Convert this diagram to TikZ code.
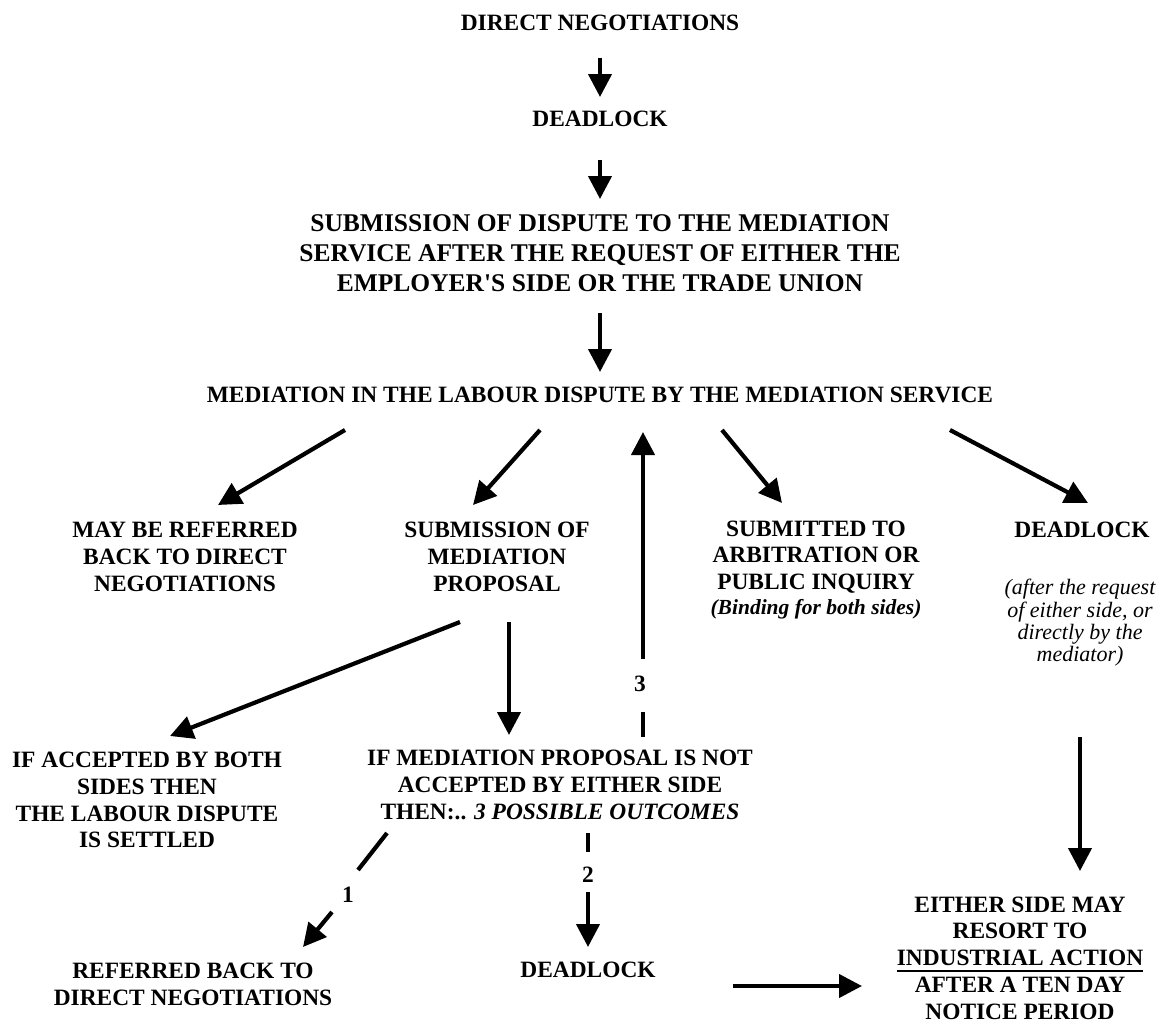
\documentclass[tikz,border=0pt]{standalone}
\usepackage{fontspec}
\setmainfont{Liberation Serif}[Ligatures=TeXOff]
\usetikzlibrary{arrows.meta}
\newcommand\ulbar[1]{\setbox0\hbox{#1}\rlap{\rule[-6pt]{\wd0}{2pt}}\box0}
\begin{document}
\begin{tikzpicture}[x=1pt,y=-1pt,
  lbl/.style={inner sep=0pt,align=center,font=\bfseries\fontsize{23.4}{26.8}\selectfont},
  big/.style={inner sep=0pt,align=center,font=\bfseries\fontsize{25.5}{30}\selectfont},
  note/.style={inner sep=0pt,align=center,font=\itshape\fontsize{22}{22.3}\selectfont},
  bnote/.style={inner sep=0pt,align=center,font=\bfseries\itshape\fontsize{21.5}{24}\selectfont},
  num/.style={inner sep=0pt,font=\bfseries\fontsize{23.4}{26}\selectfont},
  arr/.style={line width=4.2pt,-{Triangle[width=23pt,length=23pt]}},
  seg/.style={line width=4.2pt}]
\useasboundingbox (0,0) rectangle (1160,1023);

% ---- nodes ----
\node[lbl] (dn)  at (600,23)  {DIRECT NEGOTIATIONS};
\node[lbl] (dl1) at (600,119) {DEADLOCK};
\node[big] (sub) at (600,253) {SUBMISSION OF DISPUTE TO THE MEDIATION\\SERVICE AFTER THE REQUEST OF EITHER THE\\EMPLOYER'S SIDE OR THE TRADE UNION};
\node[lbl] (med) at (600,395) {MEDIATION IN THE LABOUR DISPUTE BY THE MEDIATION SERVICE};

\node[lbl] (back) at (185,557) {MAY BE REFERRED\\BACK TO DIRECT\\NEGOTIATIONS};
\node[lbl] (prop) at (497,557) {SUBMISSION OF\\MEDIATION\\PROPOSAL};
\node[lbl] (arb)  at (816,557) {SUBMITTED TO\\ARBITRATION OR\\PUBLIC INQUIRY};
\node[bnote] (bind) at (816,609) {(Binding for both sides)};
\node[lbl] (dl2)  at (1082,530) {DEADLOCK};
\node[note] (req) at (1080,623) {(after the request\\of either side, or\\directly by the\\mediator)};

\node[lbl] (acc)    at (147,800) {IF ACCEPTED BY BOTH\\SIDES THEN\\THE LABOUR DISPUTE\\IS SETTLED};
\node[lbl] (notacc) at (560,785) {IF MEDIATION PROPOSAL IS NOT\\ACCEPTED BY EITHER SIDE\\THEN:.. \textit{3 POSSIBLE OUTCOMES}};

\node[lbl] (refb) at (193,984) {REFERRED BACK TO\\DIRECT NEGOTIATIONS};
\node[lbl] (dl3)  at (588,970) {DEADLOCK};
\node[lbl] (ind)  at (1020,958) {EITHER SIDE MAY\\RESORT TO\\\ulbar{INDUSTRIAL ACTION}\\AFTER A TEN DAY\\NOTICE PERIOD};

\node[num] (n1) at (348,895) {1};
\node[num] (n2) at (588,875) {2};
\node[num] (n3) at (640,684) {3};

% ---- connector end points ----
\coordinate (t1a) at (600,58);  \coordinate (t1b) at (600,97);
\coordinate (t2a) at (600,160); \coordinate (t2b) at (600,199);
\coordinate (t3a) at (600,313); \coordinate (t3b) at (600,372);

\coordinate (ra1) at (345,430); \coordinate (ra2) at (218,505);
\coordinate (rb1) at (540,430); \coordinate (rb2) at (473,505);
\coordinate (rc1) at (722,430); \coordinate (rc2) at (782,503);
\coordinate (rd1) at (950,430); \coordinate (rd2) at (1088,503);

\coordinate (up1) at (643,659); \coordinate (up2) at (643,432);
\coordinate (up3) at (643,712); \coordinate (up4) at (643,737);

\coordinate (da1) at (460,622); \coordinate (da2) at (170,736);
\coordinate (db1) at (509,622); \coordinate (db2) at (509,735);
\coordinate (rv1) at (1080,737); \coordinate (rv2) at (1080,871);

\coordinate (p1a) at (387,833); \coordinate (p1b) at (358,870);
\coordinate (p1c) at (332,912); \coordinate (p1d) at (303,947);
\coordinate (p2a) at (588,833); \coordinate (p2b) at (588,852);
\coordinate (p2c) at (588,892); \coordinate (p2d) at (588,947);
\coordinate (h1) at (733,986);  \coordinate (h2) at (862,986);

% ---- connectors ----
\draw[arr] (t1a) -- (t1b);
\draw[arr] (t2a) -- (t2b);
\draw[arr] (t3a) -- (t3b);
\draw[arr] (ra1) -- (ra2);
\draw[arr] (rb1) -- (rb2);
\draw[arr] (rc1) -- (rc2);
\draw[arr] (rd1) -- (rd2);
\draw[arr] (up1) -- (up2);
\draw[seg] (up3) -- (up4);
\draw[arr] (da1) -- (da2);
\draw[arr] (db1) -- (db2);
\draw[arr] (rv1) -- (rv2);
\draw[seg] (p1a) -- (p1b);
\draw[arr] (p1c) -- (p1d);
\draw[seg] (p2a) -- (p2b);
\draw[arr] (p2c) -- (p2d);
\draw[arr] (h1) -- (h2);
\end{tikzpicture}
\end{document}
